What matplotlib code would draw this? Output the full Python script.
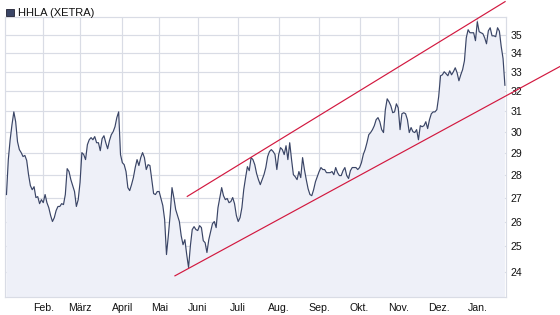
import numpy as np
import pandas as pd
import matplotlib
matplotlib.use('Agg')
import matplotlib.pyplot as plt
from matplotlib.patches import Rectangle

# HHLA Schlusskurse (XETRA), ein Wert pro Handelstag ab 04.01.2010
closes = [
    27.15, 28.70, 29.62, 30.34, 30.96, 30.48, 29.53, 29.16, 29.02, 28.84,
    28.89, 28.66, 28.02, 27.54, 27.36, 27.49, 27.02, 27.06, 26.76, 26.93,
    26.80, 27.15, 26.80, 26.59, 26.26, 26.01, 26.17, 26.47, 26.64, 26.64,
    26.76, 26.72, 27.15, 28.29, 28.16, 27.80, 27.54, 27.28, 26.64, 26.93,
    27.67, 29.02, 28.93, 28.70, 29.39, 29.62, 29.72, 29.62, 29.77, 29.48,
    29.48, 29.11, 29.67, 29.81, 29.48, 29.20, 29.58, 29.86, 30.00, 30.24,
    30.68, 30.96, 28.93, 28.56, 28.47, 28.16, 27.45, 27.32, 27.58, 27.89,
    28.34, 28.70, 28.43, 28.79, 29.02, 28.79, 28.25, 28.47, 28.43, 27.80,
    27.19, 27.15, 27.28, 27.28, 26.98, 26.68, 26.09, 24.68, 25.43, 26.30,
    27.45, 27.02, 26.51, 26.26, 26.01, 25.43, 25.07, 25.27, 24.68, 24.18,
    25.03, 25.68, 25.80, 25.68, 25.64, 25.84, 25.76, 25.23, 25.15, 24.76,
    25.27, 25.60, 25.92, 26.01, 25.76, 26.59, 27.02, 27.45, 27.10, 26.93,
    26.98, 26.80, 26.85, 27.02, 26.76, 26.26, 26.01, 26.17, 26.59, 27.36,
    27.89, 28.38, 28.20, 28.79, 28.70, 28.47, 28.07, 27.80, 27.58, 27.80,
    28.02, 28.34, 28.84, 29.07, 29.16, 29.07, 28.93, 28.25, 28.93, 29.25,
    29.16, 28.93, 29.34, 28.70, 29.48, 28.70, 28.02, 27.93, 27.80, 28.16,
    27.89, 28.79, 28.25, 27.80, 27.40, 27.15, 27.10, 27.36, 27.71, 27.93,
    28.16, 28.34, 28.25, 28.25, 28.11, 28.11, 28.11, 28.16, 28.02, 28.34,
    28.11, 27.98, 27.98, 28.20, 28.34, 27.98, 27.85, 28.20, 28.34, 28.34,
    28.34, 28.25, 28.34, 28.56, 28.93, 29.16, 29.48, 29.86, 29.96, 30.10,
    30.29, 30.58, 30.68, 30.48, 30.10, 29.96, 31.07, 31.61, 31.46, 31.26,
    30.92, 30.96, 31.36, 31.16, 30.10, 30.87, 30.92, 30.87, 30.58, 29.96,
    30.20, 30.00, 29.96, 30.10, 29.62, 30.29, 30.24, 30.29, 30.48, 30.15,
    30.58, 30.87, 30.96, 30.96, 31.07, 31.72, 32.79, 32.84, 33.00, 32.90,
    32.79, 33.05, 32.84, 33.00, 33.21, 32.95, 32.53, 32.84, 33.11, 33.58,
    34.83, 35.28, 35.11, 35.11, 35.11, 34.67, 35.73, 35.17, 35.11, 35.06,
    34.83, 34.50, 35.22, 35.39, 34.94, 34.94, 34.89, 35.39, 35.20, 34.35,
    33.70, 32.30,
]

# Handelstage (XETRA-Feiertage ausgenommen)
holidays = ['2010-04-02', '2010-04-05', '2010-12-24', '2010-12-31']
sessions = pd.bdate_range('2010-01-04', '2011-01-31').drop(pd.to_datetime(holidays))
sessions = sessions[:len(closes)]

month_labels = ['Feb.', 'März', 'April', 'Mai', 'Juni', 'Juli', 'Aug.',
                'Sep.', 'Okt.', 'Nov.', 'Dez.', 'Jan.']
price_ticks = [24, 25, 26, 27, 28, 29, 30, 31, 32, 33, 34, 35]

# Trendkanal: Handelstag-Nr. und Kurs der Endpunkte
upper_days = [98.3, 271.1]
upper_prices = [27.07, 36.89]
lower_days = [91.6, 301.0]
lower_prices = [23.86, 33.28]

plt.rcParams['font.family'] = ['Liberation Sans', 'DejaVu Sans']

fig = plt.figure(figsize=(5.6, 3.15), dpi=100)
ax = fig.add_axes([5 / 560, 18 / 315, 501 / 560, 280 / 315])

x = np.arange(len(closes))
ax.set_yscale('log')
ax.set_ylim(23.07, 36.0)
ax.set_xlim(-0.8, len(closes) - 0.4)

ax.fill_between(x, closes, 10, color='#eef0f8', lw=0, zorder=1)
ax.plot(x, closes, color='#3a4566', lw=0.85, zorder=3)

ax.plot(upper_days, upper_prices, color='#d2183f', lw=0.85, zorder=4, clip_on=False)
ax.plot(lower_days, lower_prices, color='#d2183f', lw=0.85, zorder=4, clip_on=False)

# Monatsanfänge als Gitterlinien
months = pd.Series(sessions.month)
month_starts = list(np.where(months.diff().fillna(0) != 0)[0])
ax.set_xticks(month_starts)
ax.set_xticklabels(month_labels[:len(month_starts)])

ax.yaxis.tick_right()
ax.set_yticks(price_ticks)
ax.set_yticklabels([str(t) for t in price_ticks])
ax.yaxis.set_minor_locator(matplotlib.ticker.NullLocator())

ax.tick_params(axis='both', length=0, labelsize=7.6, colors='#111111')
ax.tick_params(axis='x', pad=4)
ax.tick_params(axis='y', pad=3)

ax.grid(True, color='#d9dce5', lw=0.85, zorder=0)
ax.set_axisbelow(True)
for s in ax.spines.values():
    s.set_color('#d9dce5')
    s.set_linewidth(0.85)

# Legende oben links
fig.patches.append(Rectangle((6 / 560, 1 - 16 / 315), 8 / 560, 7 / 315,
                             transform=fig.transFigure, facecolor='#3a4566',
                             edgecolor='#222233', lw=0.6))
fig.text(18 / 560, 1 - 12.5 / 315, 'HHLA (XETRA)', fontsize=8, va='center',
         ha='left', color='#111111')

fig.savefig('out.png', dpi=100)
